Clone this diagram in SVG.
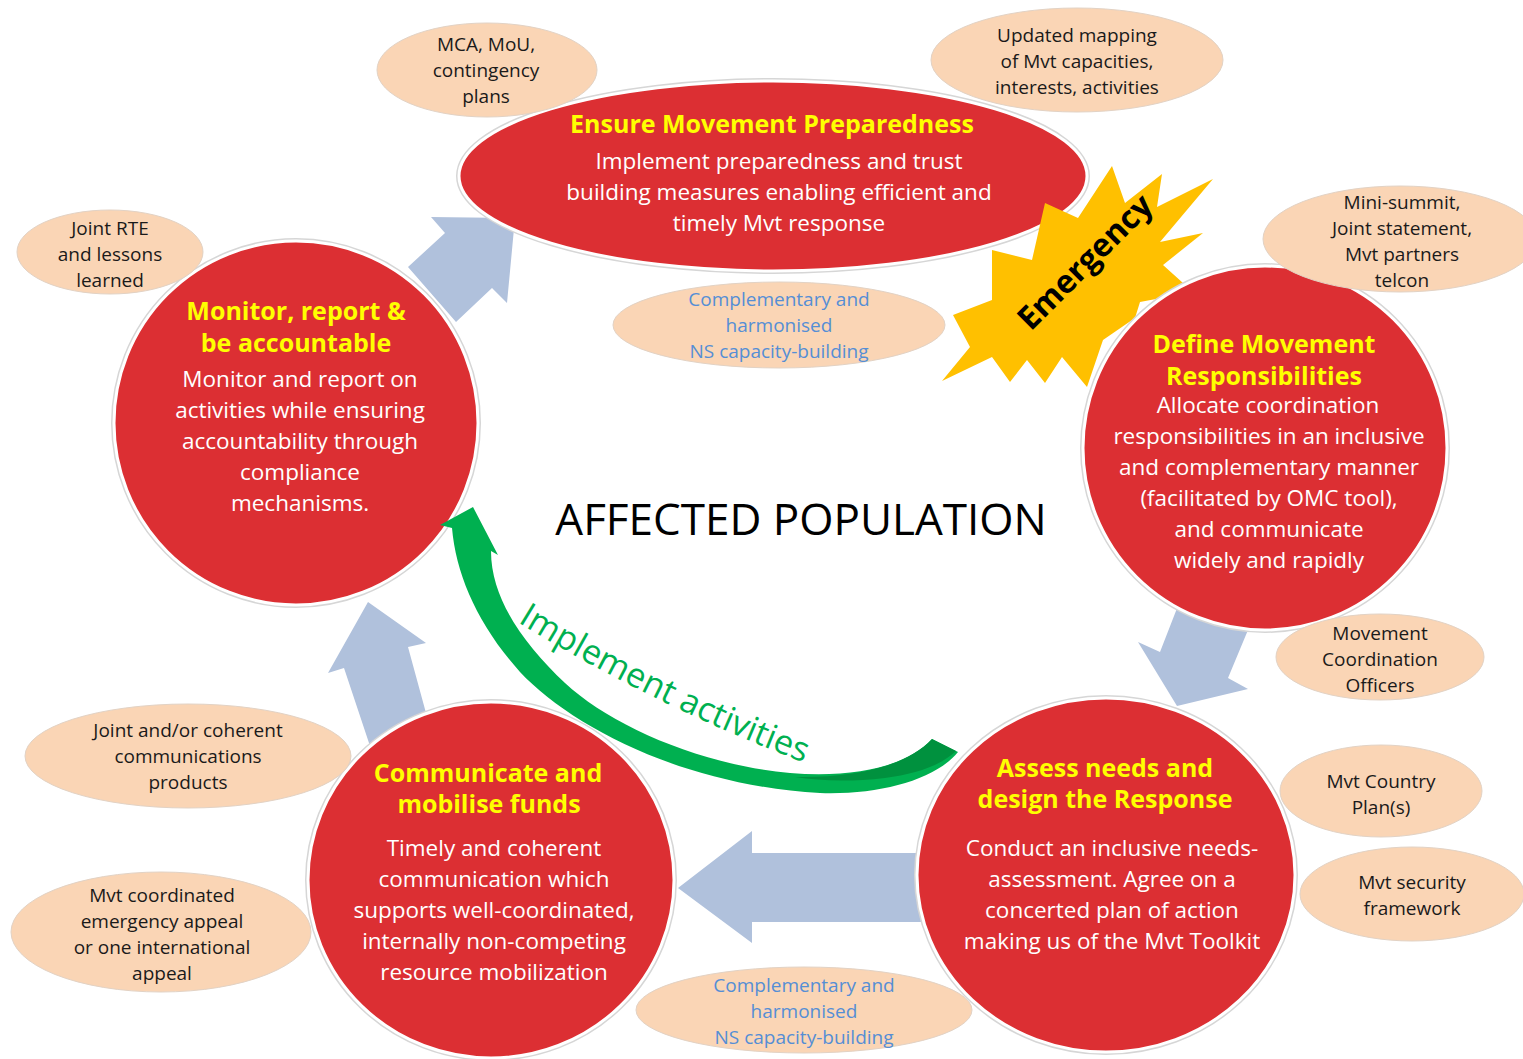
<svg xmlns="http://www.w3.org/2000/svg" width="1523" height="1059" viewBox="0 0 1523 1059">
  <style>
    .halo { fill: none; stroke: #D6D6D6; stroke-width: 6; }
    .red { fill: #DC2F33; stroke: #FFFFFF; stroke-width: 3; }
    .peach { fill: #FAD5B5; stroke: #E2D2C4; stroke-width: 1; }
    .blue { fill: #B0C1DC; }
    .title { font-family: "Open Sans", "DejaVu Sans", sans-serif; font-weight: 700; font-size: 25px; fill: #FFFF00; text-anchor: middle; }
    .body { font-family: "Open Sans", "DejaVu Sans", sans-serif; font-size: 22.5px; fill: #FFFFFF; text-anchor: middle; }
    .note { font-family: "Open Sans", "DejaVu Sans", sans-serif; font-size: 19px; fill: #1A1A1A; text-anchor: middle; }
    .note.blue-text { fill: #558ED5; }
    .center { font-family: "Open Sans", "DejaVu Sans", sans-serif; font-size: 44px; fill: #000000; text-anchor: middle; }
  </style>
  <defs>
    <path id="implement-path" d="M 516,621 Q 650,704 815,767"/>
  </defs>

  <rect width="1523" height="1059" fill="#FFFFFF"/>

  <!-- cycle arrows between the stages -->
  <g id="connectors">
    <polygon class="blue" points="431,217 445,233 408,267 456,322 492,288 507,303 515,218"/>
    <polygon class="blue" points="1188,580 1258,606 1228,678 1248,689 1177,706 1138,642 1160,652"/>
    <polygon class="blue" points="678,888 752,831 752,853 935,853 935,922 752,922 752,943"/>
    <polygon class="blue" points="368,602 426,643 408,647 432,735 372,752 344,668 328,673"/>
  </g>

  <!-- stage: preparedness -->
  <g id="ensure-preparedness">
    <ellipse class="halo" cx="773" cy="176" rx="314" ry="95"/>
    <ellipse class="red" cx="773" cy="176" rx="314" ry="95"/>
  </g>

  <!-- emergency burst -->
  <g id="emergency">
    <polygon fill="#FFC000" points="1112,166 1125,203 1162,174 1157,207 1213,179 1160,242 1203,233 1163,265 1193,292 1140,302 1135,318 1103,340 1087,387 1062,357 1045,383 1027,360 1010,382 992,357 942,381 970,347 953,315 992,300 992,250 1032,260 1045,203 1078,218"/>
    <text transform="translate(1085,262) rotate(-45)" x="0" y="11" font-family="'Open Sans', 'DejaVu Sans', sans-serif" font-weight="700" font-size="32" text-anchor="middle" fill="#000000">Emergency</text>
  </g>

  <!-- stage: monitor -->
  <g id="monitor">
    <circle class="halo" cx="296" cy="423" r="182"/>
    <circle class="red" cx="296" cy="423" r="182"/>
    <text class="title" x="296" y="320">Monitor, report &amp;</text>
    <text class="title" x="296" y="352">be accountable</text>
    <text class="body" x="300" y="387">Monitor and report on</text>
    <text class="body" x="300" y="418">activities while ensuring</text>
    <text class="body" x="300" y="449">accountability through</text>
    <text class="body" x="300" y="480">compliance</text>
    <text class="body" x="300" y="511">mechanisms.</text>
  </g>

  <!-- stage: define responsibilities -->
  <g id="define-responsibilities">
    <circle class="halo" cx="1265" cy="448" r="182"/>
    <circle class="red" cx="1265" cy="448" r="182"/>
    <text class="title" x="1264" y="353">Define Movement</text>
    <text class="title" x="1264" y="385">Responsibilities</text>
    <text class="body" x="1268" y="413">Allocate coordination</text>
    <text class="body" x="1269" y="444">responsibilities in an inclusive</text>
    <text class="body" x="1269" y="475">and complementary manner</text>
    <text class="body" x="1269" y="506">(facilitated by OMC tool),</text>
    <text class="body" x="1269" y="537">and communicate</text>
    <text class="body" x="1269" y="568">widely and rapidly</text>
  </g>

  <!-- stage: assess and design -->
  <g id="assess-design">
    <ellipse class="halo" cx="1106" cy="875" rx="189" ry="177"/>
    <ellipse class="red" cx="1106" cy="875" rx="189" ry="177"/>
    <text class="title" x="1105" y="777">Assess needs and</text>
    <text class="title" x="1105" y="808">design the Response</text>
    <text class="body" x="1112" y="856">Conduct an inclusive needs-</text>
    <text class="body" x="1112" y="887">assessment. Agree on a</text>
    <text class="body" x="1112" y="918">concerted plan of action</text>
    <text class="body" x="1112" y="949">making us of the Mvt Toolkit</text>
  </g>

  <!-- stage: communicate and mobilise -->
  <g id="communicate-mobilise">
    <ellipse class="halo" cx="491" cy="880" rx="183" ry="178"/>
    <ellipse class="red" cx="491" cy="880" rx="183" ry="178"/>
    <text class="title" x="488" y="782">Communicate and</text>
    <text class="title" x="489" y="813">mobilise funds</text>
    <text class="body" x="494" y="856">Timely and coherent</text>
    <text class="body" x="494" y="887">communication which</text>
    <text class="body" x="494" y="918">supports well-coordinated,</text>
    <text class="body" x="494" y="949">internally non-competing</text>
    <text class="body" x="494" y="980">resource mobilization</text>
  </g>

  <!-- text of the preparedness stage, above the burst -->
  <g id="ensure-preparedness-text">
    <text class="title" x="772" y="133">Ensure Movement Preparedness</text>
    <text class="body" x="779" y="169">Implement preparedness and trust</text>
    <text class="body" x="779" y="200">building measures enabling efficient and</text>
    <text class="body" x="779" y="231">timely Mvt response</text>
  </g>

  <!-- supporting outputs -->
  <g id="note-mca">
    <ellipse class="peach" cx="487" cy="70" rx="110" ry="47"/>
    <text class="note" x="486" y="51">MCA, MoU,</text>
    <text class="note" x="486" y="77">contingency</text>
    <text class="note" x="486" y="103">plans</text>
  </g>
  <g id="note-mapping">
    <ellipse class="peach" cx="1077" cy="60" rx="146" ry="52"/>
    <text class="note" x="1077" y="42">Updated mapping</text>
    <text class="note" x="1077" y="68">of Mvt capacities,</text>
    <text class="note" x="1077" y="94">interests, activities</text>
  </g>
  <g id="note-rte">
    <ellipse class="peach" cx="110" cy="252" rx="93" ry="42"/>
    <text class="note" x="110" y="235">Joint RTE</text>
    <text class="note" x="110" y="261">and lessons</text>
    <text class="note" x="110" y="287">learned</text>
  </g>
  <g id="note-capacity-top">
    <ellipse class="peach" cx="779" cy="325" rx="166" ry="43"/>
    <text class="note blue-text" x="779" y="306">Complementary and</text>
    <text class="note blue-text" x="779" y="332">harmonised</text>
    <text class="note blue-text" x="779" y="358">NS capacity-building</text>
  </g>
  <g id="note-summit">
    <ellipse class="peach" cx="1400" cy="239" rx="137" ry="53"/>
    <text class="note" x="1402" y="209">Mini-summit,</text>
    <text class="note" x="1402" y="235">Joint statement,</text>
    <text class="note" x="1402" y="261">Mvt partners</text>
    <text class="note" x="1402" y="287">telcon</text>
  </g>
  <g id="note-officers">
    <ellipse class="peach" cx="1380" cy="657" rx="104" ry="43"/>
    <text class="note" x="1380" y="640">Movement</text>
    <text class="note" x="1380" y="666">Coordination</text>
    <text class="note" x="1380" y="692">Officers</text>
  </g>
  <g id="note-country-plan">
    <ellipse class="peach" cx="1381" cy="791" rx="101" ry="46"/>
    <text class="note" x="1381" y="788">Mvt Country</text>
    <text class="note" x="1381" y="814">Plan(s)</text>
  </g>
  <g id="note-security">
    <ellipse class="peach" cx="1412" cy="894" rx="112" ry="47"/>
    <text class="note" x="1412" y="889">Mvt security</text>
    <text class="note" x="1412" y="915">framework</text>
  </g>
  <g id="note-capacity-bottom">
    <ellipse class="peach" cx="804" cy="1010" rx="168" ry="43"/>
    <text class="note blue-text" x="804" y="992">Complementary and</text>
    <text class="note blue-text" x="804" y="1018">harmonised</text>
    <text class="note blue-text" x="804" y="1044">NS capacity-building</text>
  </g>
  <g id="note-communications">
    <ellipse class="peach" cx="188" cy="756" rx="163" ry="52"/>
    <text class="note" x="188" y="737">Joint and/or coherent</text>
    <text class="note" x="188" y="763">communications</text>
    <text class="note" x="188" y="789">products</text>
  </g>
  <g id="note-appeal">
    <ellipse class="peach" cx="161" cy="932" rx="150" ry="60"/>
    <text class="note" x="162" y="902">Mvt coordinated</text>
    <text class="note" x="162" y="928">emergency appeal</text>
    <text class="note" x="162" y="954">or one international</text>
    <text class="note" x="162" y="980">appeal</text>
  </g>

  <!-- centre label -->
  <g id="affected-population">
    <text class="center" x="801" y="535">AFFECTED POPULATION</text>
  </g>

  <!-- curved implementation arrow -->
  <g id="implement-activities">
    <path fill="#00B050" d="M 440,525 L 473,507 L 498,555 L 491,551 C 491,600 525,645 565,683 C 610,725 700,765 790,773 C 850,778 905,768 932,739 L 958,752 C 935,780 880,795 820,793 C 680,785 570,725 520,672 C 478,625 456,575 452,528 Z"/>
    <path fill="#00913E" d="M 932,739 L 956,751 C 940,766 915,774 885,778 C 850,782 820,781 795,777 C 850,778 905,768 932,739 Z"/>
    <text font-family="'Open Sans', 'DejaVu Sans', sans-serif" font-size="34" fill="#00B050"><textPath href="#implement-path" startOffset="2">Implement activities</textPath></text>
  </g>
</svg>
